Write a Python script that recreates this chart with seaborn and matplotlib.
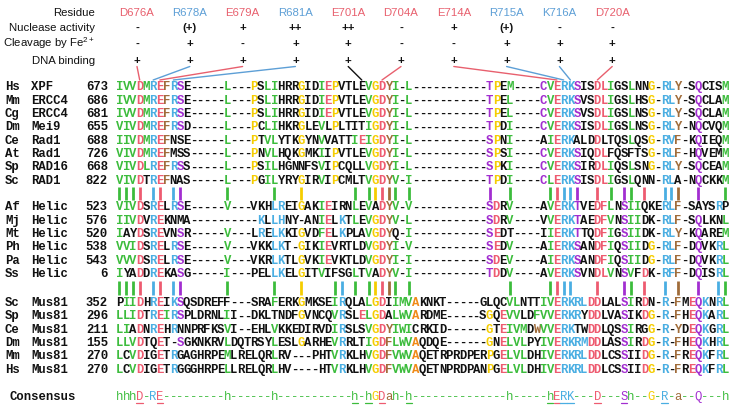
import numpy as np
import pandas as pd
import matplotlib
matplotlib.use("Agg")
import matplotlib.pyplot as plt
import seaborn as sns

# ---------------- data ----------------
residues = ["D676A", "R678A", "E679A", "R681A", "E701A",
            "D704A", "E714A", "R715A", "K716A", "D720A"]
residue_color = ["r", "b", "r", "b", "r", "r", "r", "b", "b", "r"]
link_color = ["r", "b", "r", "b", "k", "r", "r", "b", "b", "r"]
residue_column = [4, 6, 7, 9, 37, 40, 66, 67, 68, 72]
row_titles = ["Residue", "Nuclease activity", "Cleavage by Fe$^{2+}$", "DNA binding"]
nuclease_activity = ["-", "(+)", "+", "++", "++", "-", "+", "(+)", "-", "-"]
fe_cleavage = ["-", "+", "-", "+", "+", "-", "-", "+", "+", "+"]
dna_binding = ["+", "+", "+", "+", "+", "+", "+", "+", "+", "+"]

xpf_species = ["Hs", "Mm", "Cg", "Dm", "Ce", "At", "Sp", "Sc"]
xpf_genes = ["XPF", "ERCC4", "ERCC4", "Mei9", "Rad1", "Rad1", "RAD16", "RAD1"]
xpf_start = [673, 686, 681, 655, 688, 726, 668, 822]
xpf_seq = [
    "IVVDMREFRSE-----L---PSLIHRRGIDIEPVTLEVGDYI-L-----------TPEM----CVERKSISDLIGSLNNG-RLY-SQCISM",
    "IVVDMREFRSE-----L---PSLIHRRGIDIEPVTLEVGDYI-L-----------TPEL----CVERKSVSDLIGSLHSG-RLY-SQCLAM",
    "IVVDMREFRSE-----L---PSLIHRRGIDIEPVTLEVGDYI-L-----------TPEL----CVERKSVSDLIGSLNSG-RLY-SQCLAM",
    "VIVDMREFRSD-----L---PCLIHKRGLEVLPLTITIGDYI-L-----------TPDI----CVERKSISDLIGSLNSG-RLY-NQCVQM",
    "IIVDMREFNSE-----L---PTVLYTKGYNVVATTIEIGDYI-L-----------SPNI----AIERKALDDLTQSLQSG-RVF-KQIEQM",
    "VIVDMREFMSS-----L---PNVLHQKGMKIIPVTLEVGDYI-L-----------SPSI----CVERKSIQDLFQSFTSG-RLF-HQVEMM",
    "VIVDLREFRSS-----L---PSILHGNNFSVIPCQLLVGDYI-L-----------SPKI----CVERKSIRDLIQSLSNG-RLY-SQCEAM",
    "VIVDTREFNAS-----L---PGILYRYGIRVIPCMLTVGDYV-I-----------TPDI----CLERKSISDLIGSLQNN-RLA-NQCKKM",
]
xpf_col = [
    "gggrgbrnbmk g ykggkkkykkgrykkkkg yrng g mykg mgrbbmkkrrgkkgkky bbn kmkkkg",
    "gggrgbrnbmk g ykggkkkykkgrykkkkg yrng g mykg mgrbbmkkrrgkkgkky bbn kmkkkg",
    "gggrgbrnbmk g ykggkkkykkgrykkkkg yrng g mykg mgrbbmkkrrgkkgkky bbn kmkkkg",
    "gggrgbrnbmk g ykggkkkykkgkykkkkg yrng g mykg mgrbbmkkrrgkkgkky bbn kmkkkg",
    "gggrgbrnkkk g ykggkkkykkgkkkkgrg yrng g mykg kgrbbkkkrkkkkgkky bbn kmkkkg",
    "gggrgbrnkkk g ykggkkkykkgkykkkkg yrng g mykg mgrbbmkkrrkkkkkky bbn kmkkkg",
    "gggrgbrnbmk g ykggkkkkkkgkykkkkg yrng g mykg mgrbbmkkrrgkkgkky bbn kmkkkg",
    "gggrkbrnkkk g ykggkkkykkgkykkkkg yrng g mykg mgrbbmkkrrgkkgkkk bbk kmkkkg",
]

hel_species = ["Af", "Mj", "Mt", "Ph", "Pa", "Ss"]
hel_genes = ["Helic"] * 6
hel_start = [523, 576, 520, 538, 543, 6]
hel_seq = [
    "VIVDSRELRSE-----V---VKHLREIGAKIEIRNLEVADYV-V-----------SDRV----AVERKTVEDFLNSIIQKERLF-SAYSRP",
    "IIVDVREKNMA----------KLLHNY-ANIELKTLEVGDYV-L-----------SDRV----VVERKTAEDFVNSIIDK-RLF-SQLKNL",
    "IAYDSREVNSR-----V---LRELKKIGVDFELKPLAVGDYQ-I-----------SEDT----IIERKTTQDFIGSIIDK-RLY-KQAREM",
    "VVIDSRELRSE-----V---VKKLKT-GIKIEVRTLDVGDYI-V-----------SEDV----AIERKSANDFIQSIIDG-RLF-DQVKRL",
    "VVVDSRELRSE-----V---VKRLKTLGVKIEVKTLDVGDYI-I-----------SDEV----AIERKSANDFIQSIIDG-RLF-DQVKRL",
    "IYADDREKASG-----I---PELLKELGITVIFSGLTVADYV-I-----------TDDV----AVERKSVNDLVNSVFDK-RFF-DQISRL",
]
hel_col = [
    "gggrkbrkbmk g kkkbbkkykkgrkkkgkg krng g mrkg kgrbbmkkrrgkmggkkkbbn kkkkbk",
    "gggrkbrkkkk bkbbkk kkgrkbkgkg yrng g mrkg kgrbbmkkrrgkmggkk bbn kmkkkg",
    "gkkrkbrkkmk g kbkbbkkykkgrkbkkkg yrnk g mrkk kgrbbmkkrrgkmggkk bbn kmkkkg",
    "gggrkbrkbmk g kkkbbkykkgrkkkkkg yrng g mrkg kgrbbmkkrrgkmggky bbn kmkkbg",
    "gggrkbrkbmk g kkkbbkkykkgrkkkkkg yrng g mrkg kgrbbmkkrrgkmggky bbn kmkkbg",
    "gkkrkbrkkmk g kkkbbkkykkgkkkkgkg krng g mrkg kgrbbmkkrrgkmgkrk bbn kmkkbg",
]

mus_species = ["Sc", "Sp", "Ce", "Dm", "Mm", "Hs"]
mus_genes = ["Mus81"] * 6
mus_start = [352, 296, 211, 155, 270, 270]
mus_seq = [
    "PIIDHREIKSQSDREFF---SRAFERKGMKSEIRQLALGDIIMVAKNKT-----GLQCVLNTTIVERKRLDDLALSIRDN-R-FMEQKNRL",
    "LLIDTREIRSPLDRNLII--DKLTNDFGVNCQVRSLELGDALWVARDME-----SGQEVVLDFVVERKRYDDLVASIKDG-R-FHEQKARL",
    "LIADNREHRNNPRFKSVI--EHLVKKEDIRVDIRSLSVGDYIWICRKID------GTEIVMDWVVERKTWDDLQSSIRGG-R-YDEQKGRL",
    "LLVDTQET-SGKNKRVLDQTRSYLESLGARHEVRRLTIGDFLWVAQDQE------GNELVLPYIVERKRMDDLASSIRDG-R-FHEQKHRL",
    "LCVDIGETRGAGHRPEMLRELQRLRV---PHTVRKLHVGDFVWVAQETRPRDPERPGELVLDHIVERKRLDDLCSSIIDG-R-FREQKFRL",
    "LCVDIGETRGGGHRPELLRELQRLHV----HTVRKLHVGDFVWVAQETNPRDPANPGELVLDHIVERKRLDDLCSSIIDG-R-FREQKFRL",
]
mus_col = [
    "kggrkbrkbmkkkkkkk kkkgkkkykkkkgbkkkgyrkgggokkkk kkkkggkkkggrbbbbrrkkkmgkrk b nkrmbkbg",
    "gggrkbrgbmkkkkkkgk kkkkkkkykkkkgbkkrgyrkgggokkkk kykrggkkgggrbbbkrrkkkmkkry b nkrmbkbg",
    "ggkrkbrkbkkkkkkkgk kkkgkkkkkkkkgbkkkgyrngggkkkkk ykrgggknggrbbkkrrkkkmgkky b nkrmbkbg",
    "gggrkkrk mkkkkkkgkkkkkkgkkkykkkkgbkkkgyrngggokkkk ykrgggkkggrbbbbrrkkkmgkry b nkrmbkbg",
    "gkgrkkrkbkkkkkkkgkkkkkkgkk kkkgbkkkg yrngggokkkkkkkkkkykrgggkkggrbbbbrrkkkmkkry b nkrmbkbg",
    "gkgrkkrkbkkkkkkkgkkkkkkgkk kkgbkkkg yrngggokkkkkkkkkkykrgggkkggrbbbbrrkkkmkkry b nkrmbkbg",
]

consensus_seq = "hhhD-RE---------h------h-----------h-hGDah-h--------------h-----hERK---D---Sh--G-R-a--Q---h"
consensus_col = "gggr br gggg yrng g g grbb r mg y b n m g"
consensus_underlined = [4, 7, 36, 38, 40, 44, 65, 66, 67, 68, 72, 76, 82]

# conservation marks between the families: alignment column and colour class
marks_xpf_helic_cols = [1, 2, 3, 4, 6, 7, 9, 10, 17, 24, 28, 36, 38, 39, 40, 41, 42, 44,
                        56, 59, 65, 66, 67, 68, 69, 72, 74, 76, 77, 79, 82, 83, 84, 87, 91]
marks_xpf_helic_cls = list("gggrbrbm" "ggy" "ggyrngg" "mg" "grbbm" "rgmgr" "bbnmg")
marks_helic_mus_cols = [1, 2, 3, 4, 6, 7, 9, 10, 17, 24, 28, 33, 34, 36, 38, 39, 40, 41, 42, 44,
                        59, 65, 66, 67, 68, 72, 76, 77, 79, 82, 84, 87, 90, 91]
marks_helic_mus_cls = list("gggrbrbm" "ggy" "gb" "ggyrngg" "g" "grbb" "rmgr" "bnmbg")

# ---------------- style ----------------
PAL = {"g": "#3cbc3c", "r": "#ee5b70", "b": "#4aaee2", "m": "#a22ed0",
       "y": "#f5cd00", "n": "#a06c3a", "o": "#f08a18", "k": "#111111"}
PAL_LINE = {"r": "#e8606e", "b": "#5d9fd6", "k": "#111111"}

sns.set_theme(style="white")
plt.rcParams["font.family"] = ["Liberation Sans", "DejaVu Sans"]
plt.rcParams["mathtext.fontset"] = "custom"
plt.rcParams["mathtext.rm"] = "Liberation Sans"
plt.rcParams["mathtext.it"] = "Liberation Sans"
plt.rcParams["mathtext.bf"] = "Liberation Sans:bold"

W, H = 737, 407
fig = plt.figure(figsize=(W / 100, H / 100), dpi=100)
ax = fig.add_axes([0, 0, 1, 1])

X0, DX = 119.5, 6.73
FS = 8.8
MONO = "Liberation Mono"
BASE_OFF = 4.0


def colx(c):
    return X0 + (c - 1) * DX


def draw_seq(y, seq, cols, weight="bold", dash_color="k", fs=FS):
    cl = cols.replace(" ", "")
    letters = [ch for ch in seq if ch != "-"]
    assert len(seq) == 91, (seq, len(seq))
    assert len(cl) == len(letters), (seq, len(cl), len(letters))
    it = iter(cl)
    codes = []
    for i, ch in enumerate(seq):
        code = dash_color if ch == "-" else next(it)
        codes.append(code)
        ax.text(colx(i + 1), y + BASE_OFF, ch, color=PAL[code], family=MONO,
                weight=weight, fontsize=fs, ha="center", va="baseline")
    return codes


def draw_label(y, sp, gene, start):
    for x, s, ha in [(5, sp, "left"), (31, gene, "left"), (108, str(start), "right")]:
        ax.text(x, y + BASE_OFF, s, family=MONO, weight="bold", fontsize=FS,
                color="#111111", ha=ha, va="baseline")


DY = 13.35
blocks = [
    (86.3, xpf_species, xpf_genes, xpf_start, xpf_seq, xpf_col),
    (206.3, hel_species, hel_genes, hel_start, hel_seq, hel_col),
    (302.0, mus_species, mus_genes, mus_start, mus_seq, mus_col),
]
for y0, sps, genes, starts, seqs, cols in blocks:
    for j, (sp, ge, st, sq, co) in enumerate(zip(sps, genes, starts, seqs, cols)):
        y = y0 + j * DY
        draw_label(y, sp, ge, st)
        draw_seq(y, sq, co)

# consensus line
CY = 396.3
ax.text(10, CY + BASE_OFF, "Consensus", family=MONO, weight="bold", fontsize=FS,
        color="#111111", ha="left", va="baseline")
cons_codes = draw_seq(CY, consensus_seq, consensus_col, weight="normal", dash_color="g")
for c in consensus_underlined:
    xc = colx(c)
    ax.plot([xc - 3.2, xc + 3.2], [CY + 6.2, CY + 6.2], color=PAL[cons_codes[c - 1]], lw=0.9)

# conservation marks drawn with seaborn
marks = pd.DataFrame({
    "x": [colx(c) for c in marks_xpf_helic_cols] + [colx(c) for c in marks_helic_mus_cols],
    "y": [193.5] * len(marks_xpf_helic_cols) + [288.0] * len(marks_helic_mus_cols),
    "cls": marks_xpf_helic_cls + marks_helic_mus_cls,
})
sns.scatterplot(data=marks, x="x", y="y", hue="cls", palette=PAL, marker="|",
                s=90, linewidth=2.0, legend=False, ax=ax)

# header table with mutants and their activities
HY = [11.7, 27.3, 43.3, 60.0]
HX0, HDX = 137.0, 52.8
for i, t in enumerate(row_titles):
    ax.text(95, HY[i] + 4.0, t, fontsize=8.2, color="#111111", ha="right", va="baseline")
for k, r in enumerate(residues):
    x = HX0 + k * HDX
    ax.text(x, HY[0] + 4.0, r, fontsize=8.2, color=PAL_LINE[residue_color[k]],
            ha="center", va="baseline")
    for i, vals in enumerate([nuclease_activity, fe_cleavage, dna_binding]):
        ax.text(x, HY[i + 1] + 4.0, vals[k], fontsize=8.2, weight="bold",
                color="#111111", ha="center", va="baseline")
    ax.plot([x, colx(residue_column[k])], [66.5, 80.0],
            color=PAL_LINE[link_color[k]], lw=1.0)

ax.set_xlim(0, W)
ax.set_ylim(H, 0)
ax.axis("off")
fig.savefig("out.png", dpi=100, facecolor="white")
